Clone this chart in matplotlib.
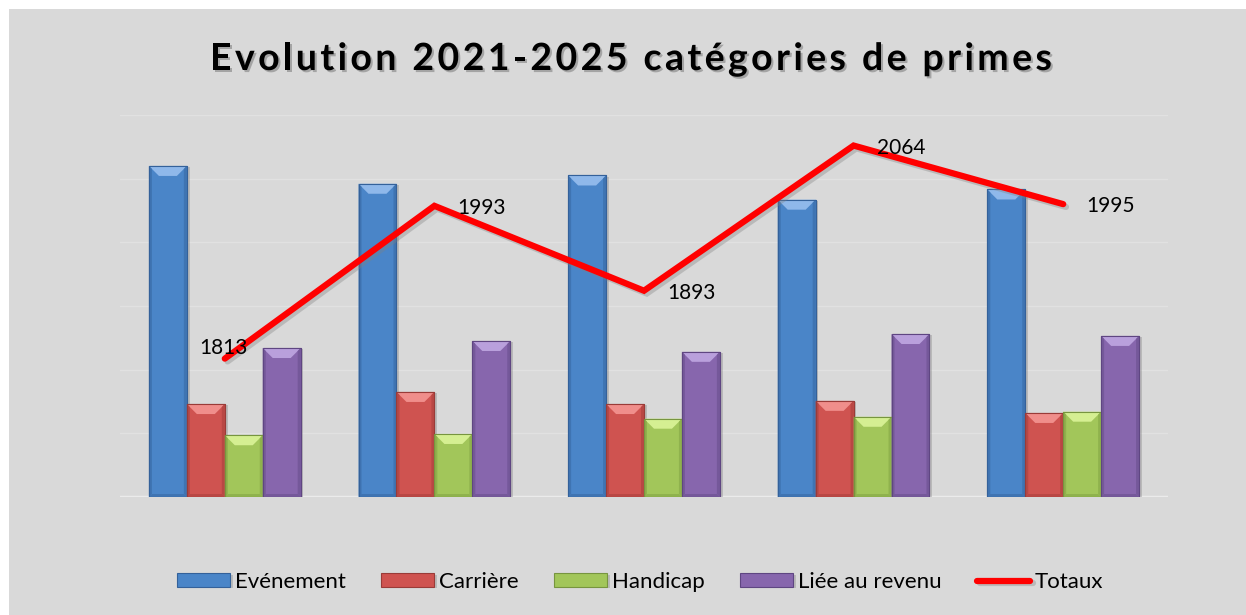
import numpy as np
import matplotlib.pyplot as plt
import matplotlib.patheffects as pe
from matplotlib.patches import Rectangle, Polygon
from matplotlib.font_manager import FontProperties

plt.rcParams['font.family'] = ['Lato', 'DejaVu Sans']

years = ['2021', '2022', '2023', '2024', '2025']
series = ['Evénement', 'Carrière', 'Handicap', 'Liée au revenu']
evenement = [52.0, 49.2, 50.5, 46.7, 48.3]
carriere = [14.6, 16.5, 14.6, 15.1, 13.2]
handicap = [9.7, 9.9, 12.3, 12.6, 13.4]
liee_revenu = [23.4, 24.5, 22.8, 25.6, 25.3]
totaux = [1813, 1993, 1893, 2064, 1995]

title = 'Evolution 2021-2025 catégories de primes'

colors = ['#4a85c8', '#cf5350', '#a2c65a', '#8766ad']
light = ['#8fb8ea', '#f08e8b', '#d5ef92', '#b9a0dc']
dark = ['#34619a', '#9a3b38', '#77953f', '#5f4682']
bottom = ['#3f74b2', '#b94744', '#8fb24d', '#75589a']

W, H = 1246, 615
fig = plt.figure(figsize=(W / 100, H / 100), dpi=100)
fig.patch.set_facecolor('white')
fig.add_artist(Rectangle((9 / W, 0), 1 - 9 / W, 1 - 9 / H, transform=fig.transFigure,
                         facecolor='#d9d9d9', edgecolor='none', zorder=-10))

ax = fig.add_axes([120 / W, 1 - 497 / H, 1048 / W, 382 / H])
ax.set_facecolor('none')
for s in ax.spines.values():
    s.set_visible(False)
ax.set_xlim(-0.5, 4.5)
ax.set_ylim(0, 60)
ax.set_yticks(range(0, 61, 10))
ax.set_xticks(np.arange(len(years)))
ax.set_xticklabels([])
ax.grid(axis='y', color='#e1e1e1', lw=0.9, zorder=0)
ax.axhline(0, color='#ebebeb', lw=2.5, zorder=2)

x = np.arange(len(years))
w = 0.181
px_x = 1048 / 5.0
px_y = 382 / 60.0
bev = 10
dx, dy = bev / px_x, bev / px_y
dxs, dys = 3 / px_x, 3 / px_y

values = [evenement, carriere, handicap, liee_revenu]
for i, vals in enumerate(values):
    bars = ax.bar(x + (i - 1.5) * w, vals, w, color=colors[i], edgecolor=dark[i],
                  linewidth=0.8, label=series[i], zorder=3,
                  path_effects=[pe.SimplePatchShadow(offset=(2, -1), shadow_rgbFace='#808080', alpha=0.35),
                                pe.Normal()])
    for b in bars:
        x0 = b.get_x()
        x1 = x0 + b.get_width()
        y1 = b.get_height()
        # bevel: light top, darker bottom and thin sides
        ax.add_patch(Polygon([(x0, y1), (x1, y1), (x1 - dx, y1 - dy), (x0 + dx, y1 - dy)],
                             facecolor=light[i], edgecolor='none', zorder=4))
        ax.add_patch(Polygon([(x0, 0), (x1, 0), (x1 - dxs, dys), (x0 + dxs, dys)],
                             facecolor=bottom[i], edgecolor='none', zorder=4))
        ax.add_patch(Polygon([(x0, 0), (x0 + dxs, dys), (x0 + dxs, y1 - dys), (x0, y1)],
                             facecolor=bottom[i], edgecolor='none', zorder=4))
        ax.add_patch(Polygon([(x1, 0), (x1 - dxs, dys), (x1 - dxs, y1 - dys), (x1, y1)],
                             facecolor=bottom[i], edgecolor='none', zorder=4))
        ax.add_patch(Rectangle((x0, 0), x1 - x0, y1, facecolor='none', edgecolor=dark[i],
                               lw=0.8, zorder=5))

ax2 = ax.twinx()
ax2.set_ylim(1650, 2100)
ax2.axis('off')
ax.tick_params(left=False, right=False, bottom=False, labelleft=False, labelbottom=False)

line, = ax2.plot(x, totaux, color='#ff0000', lw=4.5, solid_capstyle='round',
                 solid_joinstyle='miter', label='Totaux',
                 path_effects=[pe.SimpleLineShadow(offset=(2, -2), shadow_color='#808080', alpha=0.35),
                               pe.Normal()])

label_offsets = [(-1, 11), (23, -2), (23, -2), (23, -2), (23, -2)]
label_ha = ['center', 'left', 'left', 'left', 'left']
for xi, v, off, ha in zip(x, totaux, label_offsets, label_ha):
    ax2.annotate(str(v), (xi, v), xytext=off, textcoords='offset pixels',
                 ha=ha, va='center', fontsize=15, color='black', zorder=10)

handles, labels = ax.get_legend_handles_labels()
handles.append(line)
labels.append('Totaux')
fig.legend(handles, labels, loc='center', bbox_to_anchor=(640 / W, 1 - 582 / H), ncol=5,
           frameon=False, fontsize=16, handlelength=2.4, handleheight=0.55,
           handletextpad=0.22, columnspacing=1.58)

# title with letter spacing
fig.canvas.draw()
renderer = fig.canvas.get_renderer()
tprop = FontProperties(family=['Lato', 'DejaVu Sans'], weight='bold', size=27)


def text_w(s):
    return renderer.get_text_width_height_descent(s, tprop, ismath=False)[0]


base = text_w('HH')
adv = [text_w('H' + c + 'H') - base for c in title]
spacing = 3.4
total = sum(adv) + spacing * (len(title) - 1)
xpos = 631 - total / 2
for c, a in zip(title, adv):
    fig.text(xpos / W, 1 - 70 / H, c, fontproperties=tprop, ha='left', va='baseline',
             color='black',
             path_effects=[pe.SimplePatchShadow(offset=(1.5, -1.5), shadow_rgbFace='#707070', alpha=0.5),
                           pe.Normal()])
    xpos += a + spacing

fig.savefig('out.png', dpi=100, facecolor=fig.get_facecolor())
